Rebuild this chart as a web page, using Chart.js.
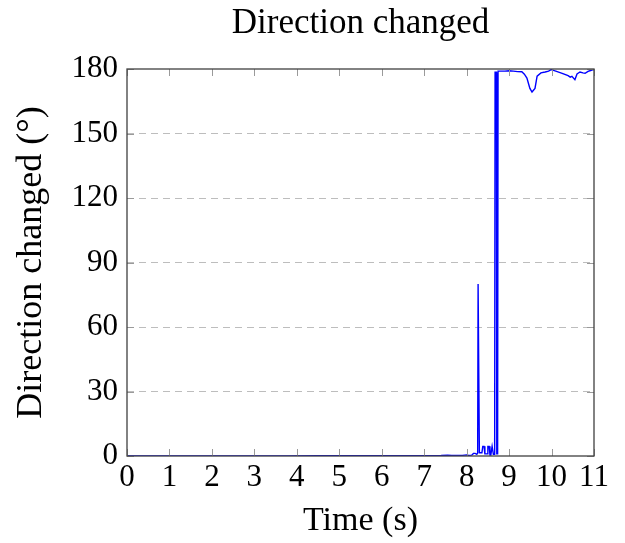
<!DOCTYPE html>
<html>
<head>
<meta charset="utf-8">
<script src="https://cdn.jsdelivr.net/npm/chart.js@4"></script>
<style>
  html, body { margin: 0; padding: 0; background: #fff; }
  #wrap { width: 625px; height: 543px; }
</style>
</head>
<body>
<div id="wrap"><canvas id="dirChart" width="625" height="543"></canvas></div>
<script>
// time (s) and direction change (deg)
let times = [0, 1, 2, 3, 3.8, 4.5, 5.5, 6.5, 7.4, 7.55, 7.65, 7.9, 8.0, 8.05, 8.12, 8.16, 8.2, 8.24, 8.26,
    8.27, 8.29, 8.3, 8.36, 8.38, 8.41, 8.43, 8.48, 8.5, 8.53, 8.55, 8.57, 8.6, 8.62, 8.63, 8.66,
    8.67, 8.7, 8.71, 8.73, 8.74, 8.9, 9.0, 9.1, 9.2, 9.3, 9.36, 9.42, 9.49, 9.54, 9.61, 9.66, 9.75, 9.85,
    9.93, 9.99, 10.1, 10.25, 10.39, 10.44, 10.48, 10.55, 10.6, 10.67, 10.74, 10.79, 10.86, 10.92, 10.98, 11.0];
let angles = [0, 0, 0, 0, 0, 0.1, 0.1, 0.1, 0.2, 0.4, 0.2, 0.3, 0.5, 0.3, 0.4, 1.2, 1.2, 0.8, 1.5,
    80, 80, 1.5, 1.5, 4.5, 4.5, 1, 1, 4.5, 4.5, 0.5, 0.5, 4.5, 4.5, 0.8, 0.8,
    178.5, 178.5, 1, 1, 179, 179, 179.2, 179, 178.8, 178.7, 177.6, 175.8, 171, 169.3, 171, 176.7, 178.2, 178.6,
    179.0, 179.7, 179.0, 178, 176.9, 176.2, 176.6, 175, 177.7, 178.6, 178.2, 178.0, 178.9, 179.3, 179.7, 179.6];

let xTicks = [0, 1, 2, 3, 4, 5, 6, 7, 8, 9, 10, 11];
let yTicks = [0, 30, 60, 90, 120, 150, 180];

let chartTitle = 'Direction changed';

let points = times.map((t, i) => ({ x: t, y: angles[i] }));

let serif = "'Liberation Serif', 'DejaVu Serif', serif";

// frame around the plot, inward tick marks on all four sides, title over the plot area
let frameTicks = {
    id: 'frameTicks',
    afterDraw(chart) {
        let c = chart.ctx;
        let a = chart.chartArea;
        let xs = chart.scales.x;
        let ys = chart.scales.y;
        let len = 7;
        c.save();
        c.strokeStyle = '#9a9a9a';
        c.lineWidth = 1;
        c.beginPath();
        xTicks.forEach(v => {
            let px = Math.round(xs.getPixelForValue(v)) + 0.5;
            c.moveTo(px, a.bottom); c.lineTo(px, a.bottom - len);
            c.moveTo(px, a.top); c.lineTo(px, a.top + len);
        });
        yTicks.forEach(v => {
            let py = Math.round(ys.getPixelForValue(v)) + 0.5;
            c.moveTo(a.left, py); c.lineTo(a.left + len, py);
            c.moveTo(a.right, py); c.lineTo(a.right - len, py);
        });
        c.stroke();
        c.strokeStyle = '#404040';
        c.lineWidth = 1.3;
        c.strokeRect(a.left, a.top, a.right - a.left, a.bottom - a.top);

        c.fillStyle = '#000';
        c.font = '35px ' + serif;
        c.textAlign = 'center';
        c.textBaseline = 'middle';
        c.fillText(chartTitle, (a.left + a.right) / 2, 24);
        c.restore();
    }
};

let ctx = document.getElementById('dirChart').getContext('2d');

let dirChart = new Chart(ctx, {
    type: 'scatter',
    data: {
        datasets: [{
            data: points,
            showLine: true,
            borderColor: '#0000ff',
            borderWidth: 1.4,
            pointRadius: 0,
            tension: 0
        }]
    },
    options: {
        responsive: false,
        animation: false,
        layout: { padding: { left: 0, right: 31, top: 69, bottom: 0 } },
        plugins: {
            legend: { display: false },
            tooltip: { enabled: false },
            title: { display: false }
        },
        scales: {
            x: {
                type: 'linear',
                min: 0,
                max: 11,
                afterFit(scale) { scale.height = 87; },
                afterBuildTicks(scale) { scale.ticks = xTicks.map(v => ({ value: v })); },
                grid: { display: false, drawTicks: false },
                border: { display: false },
                ticks: {
                    color: '#000',
                    padding: 3,
                    maxRotation: 0,
                    font: { family: serif, size: 31 }
                },
                title: {
                    display: true,
                    text: 'Time (s)',
                    color: '#000',
                    font: { family: serif, size: 34 },
                    padding: { top: 0, bottom: 2 }
                }
            },
            y: {
                min: 0,
                max: 180,
                afterFit(scale) { scale.width = 127; },
                afterBuildTicks(scale) { scale.ticks = yTicks.map(v => ({ value: v })); },
                grid: {
                    drawTicks: false,
                    color: ctx2 => (ctx2.tick && (ctx2.tick.value === 0 || ctx2.tick.value === 180)) ? 'rgba(0,0,0,0)' : '#bdbdbd',
                    lineWidth: 1
                },
                border: { display: false, dash: [7, 5] },
                ticks: {
                    color: '#000',
                    padding: 9,
                    font: { family: serif, size: 31 }
                },
                title: {
                    display: true,
                    text: 'Direction changed (°)',
                    color: '#000',
                    font: { family: serif, size: 36 },
                    padding: { top: 10, bottom: 0 }
                }
            }
        }
    },
    plugins: [frameTicks]
});
</script>
</body>
</html>
